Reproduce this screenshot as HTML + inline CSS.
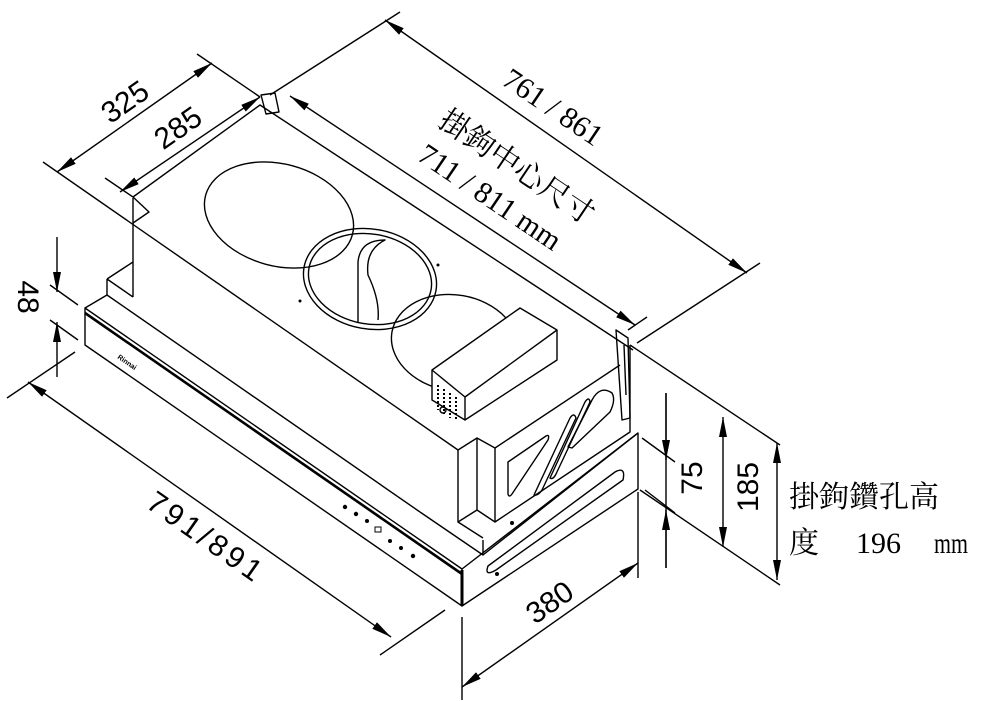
<!DOCTYPE html>
<html><head><meta charset="utf-8"><style>
html,body{margin:0;padding:0;background:#fff;width:981px;height:701px;overflow:hidden}
svg{display:block}
.d{font-family:"Liberation Sans","DejaVu Sans",sans-serif;font-size:30px;fill:#000}
.s{font-family:"Liberation Serif","Noto Serif CJK SC","Noto Sans CJK TC",serif;font-size:30px;fill:#000}
</style></head><body>
<svg width="981" height="701" viewBox="0 0 981 701" xmlns="http://www.w3.org/2000/svg">
<defs>
<marker id="a" viewBox="0 0 20 8" refX="20" refY="4" markerWidth="20" markerHeight="8" markerUnits="userSpaceOnUse" orient="auto-start-reverse"><path d="M0,0 L20,4 L0,8 Z" fill="#000"/></marker>
</defs>
<g stroke="#000" stroke-width="1.4" fill="none" stroke-linejoin="round">
<path d="M133,197 L260,105 L633,350"/>
<path d="M133,197 L149,212 L133,223"/>
<path d="M133,198 L133,297"/>
<path d="M43,162 L458,450"/>
<path d="M107,279 L133,262 M107,279 L107,295 M107,279 L133,297"/>
<path d="M85,308 L107,295 L420,512"/>
<path d="M85,308 L462,569 L462,606 L85,345 Z"/>
<path d="M85,313 L462,574" stroke-width="2.6"/>
<path d="M462,569 L638,433 L638,489 L462,606" />
<path d="M462,570 L462,606" stroke-width="3"/>
<path d="M420,512 L483,555 L483,540"/>
<path d="M458,450 L458,522 L483,538"/>
<path d="M458,450 L477,438 L495,448 L620,365"/>
<path d="M477,438 L477,510 L458,522 M477,510 L495,522"/>
<path d="M495,448 L495,522 L630,432 L630,345"/>
<path d="M483,555 L638,433"/>
<!-- right face slots -->
<path d="M508,462 L546,436 Q550,434 548,440 L512,494 Q509,498 508,494 Z"/>
<path d="M534,495 L570,418 Q574,412 576,418 L542,490 Q538,496 534,495 Z"/>
<path d="M550,478 L585,402 Q589,396 590,402 L556,474 Q553,480 550,478 Z"/>
<path d="M568,447 L592,400 Q600,385 612,393 Q616,400 610,412 L572,448 Z"/>
<path d="M488,566 L615,472 Q626,466 623,480 L496,570 Q484,577 488,566 Z"/>
<!-- bracket -->
<path d="M261,95 L275,93 L279,112 L266,114 Z"/>
<path d="M616,330 L628,338 L630,418 L622,420 Z"/>
<path d="M624,345 L626,395"/>
<!-- ellipses -->
<ellipse cx="279" cy="215" rx="76" ry="51" transform="rotate(15 279 215)"/>
<ellipse cx="370" cy="279" rx="67" ry="50" transform="rotate(10 370 279)"/>
<ellipse cx="370" cy="279" rx="62" ry="45" transform="rotate(10 370 279)"/>
<path d="M358,322 L358,262 Q360,240 385,240 Q365,250 368,275 Q380,300 378,320"/>
<ellipse cx="455" cy="343" rx="64" ry="48" transform="rotate(10 455 343)"/>
<!-- motor box -->
<path d="M432,370 L520,308 L557,330 L557,360 L465,420 L432,400 Z" fill="#fff"/>
<path d="M432,370 L465,397 L557,330 M465,397 L465,420"/>
<path d="M438,385 l0,25 M444,389 l0,25 M450,393 l0,25 M456,397 l0,22" stroke-dasharray="2,2" stroke-width="2"/>
<circle cx="443" cy="410" r="3"/>
<!-- dims -->
<path d="M57,172 L212,63" marker-start="url(#a)" marker-end="url(#a)"/>
<path d="M197,54 L260,97"/>
<path d="M120,192 L260,97" marker-start="url(#a)" marker-end="url(#a)"/>
<path d="M105,178 L133,197"/>
<path d="M385,20 L747,273" marker-start="url(#a)" marker-end="url(#a)"/>
<path d="M400,12 L270,95"/>
<path d="M760,263 L637,343"/>
<path d="M290,96 L635,325" marker-start="url(#a)" marker-end="url(#a)"/>
<path d="M647,317 L628,330"/>
<path d="M57,237 L57,292" marker-end="url(#a)"/>
<path d="M57,377 L57,322" marker-end="url(#a)"/>
<path d="M50,285 L78,305 M50,320 L78,340"/>
<path d="M28,382 L391,637" marker-start="url(#a)" marker-end="url(#a)"/>
<path d="M7,398 L75,352 M380,655 L445,610"/>
<path d="M462,617 L462,700 M638,492 L638,578"/>
<path d="M462,687 L638,563" marker-start="url(#a)" marker-end="url(#a)"/>
<path d="M666,393 L666,568"/>
<path d="M666,393 L666,460" marker-end="url(#a)"/>
<path d="M666,568 L666,510" marker-end="url(#a)"/>
<path d="M642,438 L675,462 M645,490 L675,513"/>
<path d="M723,417 L723,547" marker-start="url(#a)" marker-end="url(#a)"/>
<path d="M630,345 L780,445 M640,490 L780,585"/>
<path d="M777,443 L777,580" marker-start="url(#a)" marker-end="url(#a)"/>
</g>
<g fill="#000">
<circle cx="345" cy="507" r="2.2"/><circle cx="356" cy="514" r="2.2"/><circle cx="367" cy="521" r="2"/>
<rect x="375" y="527" width="6" height="5" fill="none" stroke="#000"/>
<circle cx="390" cy="541" r="2"/><circle cx="401" cy="548" r="2"/><circle cx="413" cy="556" r="2.2"/>
<circle cx="300" cy="301" r="1.5"/><circle cx="438" cy="265" r="1.5"/><circle cx="512" cy="523" r="2"/><circle cx="497" cy="574" r="2"/>
</g>
<text x="117" y="358" font-family="Liberation Sans" font-size="7" font-weight="bold" transform="rotate(35 117 358)">Rinnai</text>
<text class="d" x="125" y="112" text-anchor="middle" transform="rotate(-35 125 102)">325</text>
<text class="d" x="178" y="138" text-anchor="middle" transform="rotate(-35 178 128)">285</text>
<text class="s" x="553" y="117" text-anchor="middle" transform="rotate(34 553 107)">761 / 861</text>
<text class="s" x="517" y="177" text-anchor="middle" transform="rotate(34 517 167)">掛鉤中心尺寸</text>
<text class="s" x="490" y="207" text-anchor="middle" transform="rotate(34 490 197)">711 / 811 mm</text>
<text class="d" x="208" y="548" text-anchor="middle" font-size="36" letter-spacing="4" transform="rotate(35 208 535)">791/891</text>
<text class="d" x="548" y="613" text-anchor="middle" font-size="36" transform="rotate(-35 548 600)">380</text>
<text class="d" x="28" y="307" text-anchor="middle" transform="rotate(90 28 297)">48</text>
<text class="d" x="692" y="488" text-anchor="middle" transform="rotate(-90 692 478)">75</text>
<text class="d" x="748" y="497" text-anchor="middle" transform="rotate(-90 748 487)">185</text>
<text class="s" x="789" y="507" font-size="31">掛鉤鑽孔高</text>
<text class="s" x="789" y="553" font-size="31">度</text>
<text class="s" x="856" y="553" font-size="31">196</text>
<text class="s" x="934" y="553" font-size="31" textLength="34" lengthAdjust="spacingAndGlyphs">mm</text>
</svg>
</body></html>
